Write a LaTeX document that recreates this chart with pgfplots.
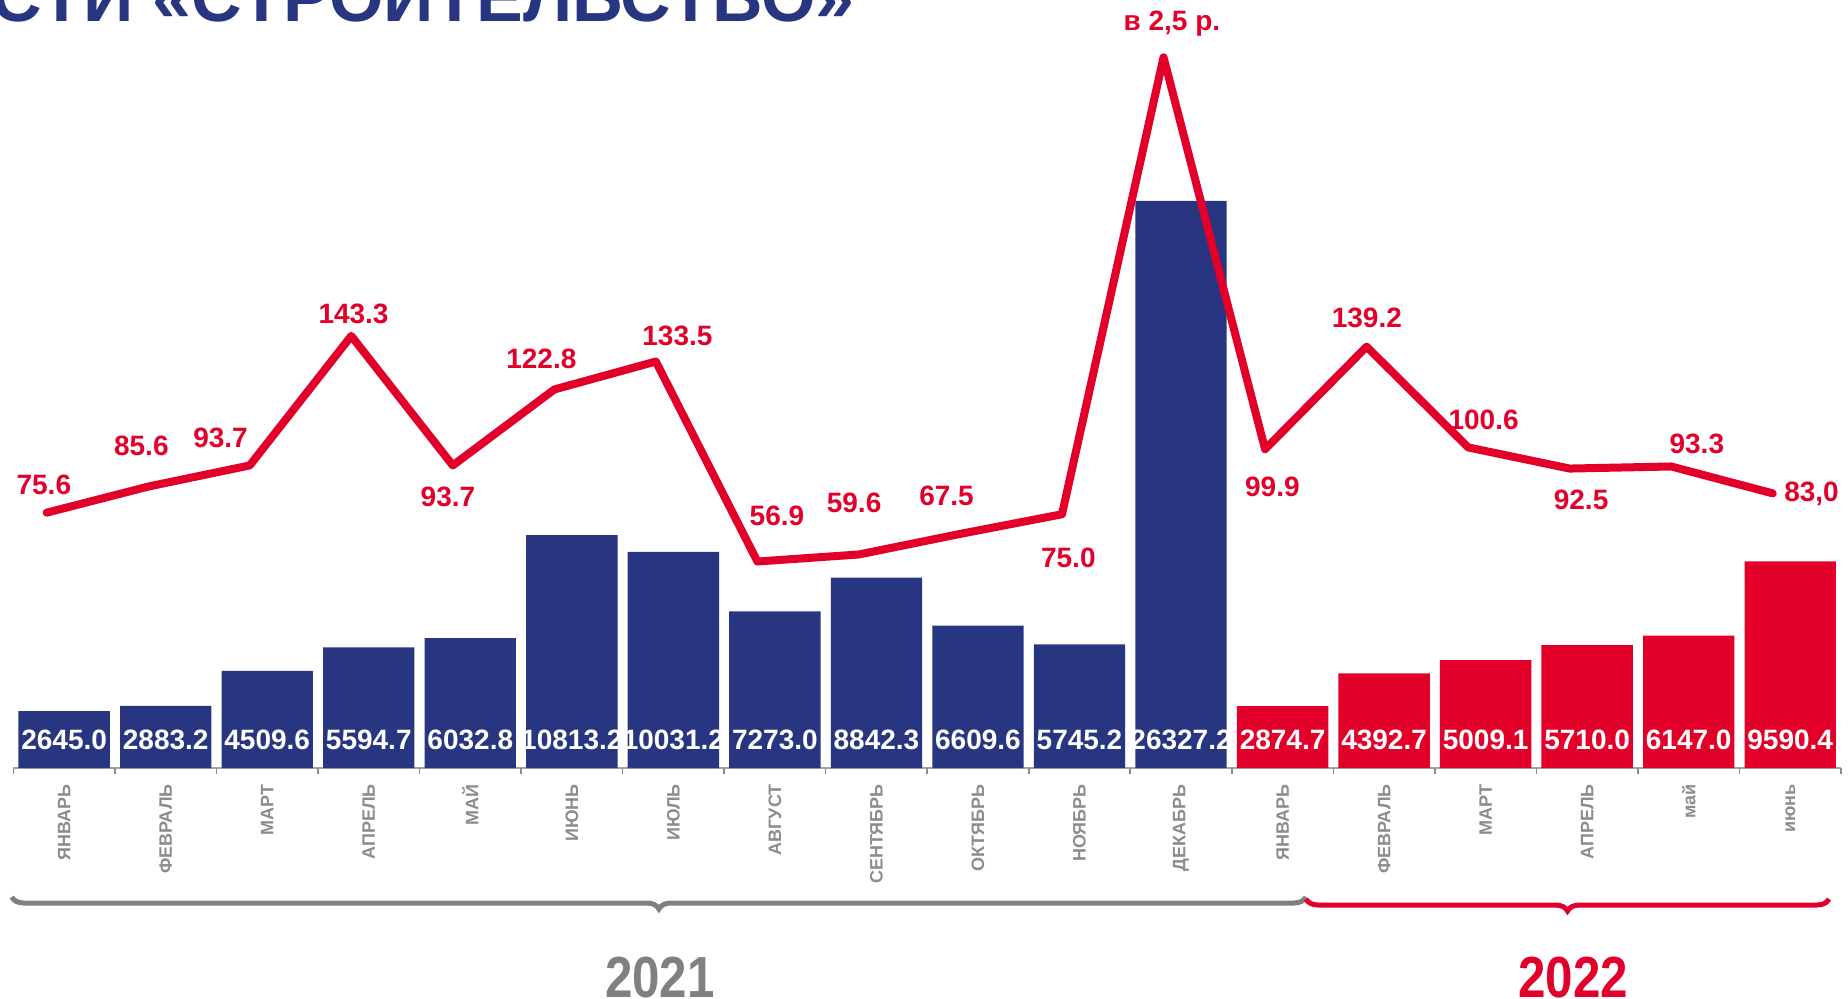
\documentclass[border=0pt]{standalone}
\usepackage{fontspec}
\setmainfont{Liberation Sans}
\newfontfamily\narrowfont[FakeStretch=0.85]{Liberation Sans}
\usepackage{pgfplots}
\pgfplotsset{compat=1.18}
\usetikzlibrary{decorations.pathreplacing}
\definecolor{navy}{RGB}{40,54,130}
\definecolor{ared}{RGB}{226,0,43}
\definecolor{tgray}{RGB}{140,140,140}
\definecolor{ygray}{RGB}{128,128,128}
\begin{document}
\begin{tikzpicture}
\path[use as bounding box] (0,0) rectangle (924pt,499pt);
\clip (0,0) rectangle (924pt,499pt);
\node[anchor=base east, inner sep=0pt, text=navy, font=\fontsize{35pt}{40pt}\selectfont\bfseries] at (427.5pt,488pt) {ДЕЯТЕЛЬНОСТИ «СТРОИТЕЛЬСТВО»};

\begin{axis}[at={(6.7pt,115pt)}, anchor=south west, scale only axis,
  width=913.8pt, height=384pt,
  xmin=-0.5, xmax=17.5, ymin=0, ymax=35655,
  axis x line*=bottom, axis y line=none,
  axis line style={tgray!80, line width=0.8pt},
  xtick={0,...,17},
  xticklabels={ЯНВАРЬ,ФЕВРАЛЬ,МАРТ,АПРЕЛЬ,МАЙ,ИЮНЬ,ИЮЛЬ,АВГУСТ,СЕНТЯБРЬ,ОКТЯБРЬ,НОЯБРЬ,ДЕКАБРЬ,ЯНВАРЬ,ФЕВРАЛЬ,МАРТ,АПРЕЛЬ,май,июнь},
  major tick length=0pt, tick align=outside,
  extra x ticks={-0.5,0.5,...,17.5}, extra x tick labels={},
  extra x tick style={major tick length=3pt, tick style={tgray, line width=0.8pt}},
  xticklabel style={rotate=90, anchor=east, inner sep=0pt, text=tgray, font=\fontsize{9pt}{10pt}\selectfont\bfseries},
  xticklabel shift=8pt,
  clip=false]
\addplot[ybar, bar width=0.9, bar shift=0pt, fill=navy, draw=none] coordinates {
(0,2645.0) (1,2883.2) (2,4509.6) (3,5594.7) (4,6032.8) (5,10813.2) (6,10031.2) (7,7273.0) (8,8842.3) (9,6609.6) (10,5745.2) (11,26327.2)};
\addplot[ybar, bar width=0.9, bar shift=0pt, fill=ared, draw=none] coordinates {
(12,2874.7) (13,4392.7) (14,5009.1) (15,5710.0) (16,6147.0) (17,9590.4)};
\begin{scope}[every node/.style={text=white, font=\fontsize{14pt}{16pt}\selectfont\bfseries, inner sep=0pt}]
\node at (axis cs:0,1300) {2645.0};
\node at (axis cs:1,1300) {2883.2};
\node at (axis cs:2,1300) {4509.6};
\node at (axis cs:3,1300) {5594.7};
\node at (axis cs:4,1300) {6032.8};
\node at (axis cs:5,1300) {10813.2};
\node at (axis cs:6,1300) {10031.2};
\node at (axis cs:7,1300) {7273.0};
\node at (axis cs:8,1300) {8842.3};
\node at (axis cs:9,1300) {6609.6};
\node at (axis cs:10,1300) {5745.2};
\node at (axis cs:11,1300) {26327.2};
\node at (axis cs:12,1300) {2874.7};
\node at (axis cs:13,1300) {4392.7};
\node at (axis cs:14,1300) {5009.1};
\node at (axis cs:15,1300) {5710.0};
\node at (axis cs:16,1300) {6147.0};
\node at (axis cs:17,1300) {9590.4};
\end{scope}
\end{axis}

\begin{axis}[at={(6.7pt,115pt)}, anchor=south west, scale only axis,
  width=913.8pt, height=384pt,
  xmin=-0.5, xmax=17.5, ymin=-22.18, ymax=271.96,
  hide axis, clip=false]
\addplot[ared, line width=4pt, line cap=round, line join=round, xshift=-8.75pt] coordinates {
(0,75.6) (1,85.6) (2,93.7) (3,143.3) (4,93.7) (5,122.8) (6,133.5) (7,56.9) (8,59.6) (9,67.5) (10,75.0) (11,250) (12,99.9) (13,139.2) (14,100.6) (15,92.5) (16,93.3) (17,83.0)};
\begin{scope}[every node/.style={text=ared, font=\fontsize{14pt}{16pt}\selectfont\bfseries, inner sep=0pt}]
\node at (axis cs:-0.20,86.4) {75.6};
\node at (axis cs:0.76,101.3) {85.6};
\node at (axis cs:1.54,104.1) {93.7};
\node at (axis cs:2.85,151.9) {143.3};
\node at (axis cs:3.78,81.5) {93.7};
\node at (axis cs:4.70,134.7) {122.8};
\node at (axis cs:6.04,143.3) {133.5};
\node at (axis cs:7.02,74.3) {56.9};
\node at (axis cs:7.78,79.2) {59.6};
\node at (axis cs:8.69,81.9) {67.5};
\node at (axis cs:9.89,58.4) {75.0};
\node at (axis cs:10.91,262.9) {в 2,5 р.};
\node at (axis cs:11.90,85.5) {99.9};
\node at (axis cs:12.83,150.1) {139.2};
\node at (axis cs:13.98,111.3) {100.6};
\node at (axis cs:14.94,80.6) {92.5};
\node at (axis cs:16.08,101.8) {93.3};
\node at (axis cs:17.21,82.8) {83,0};
\end{scope}
\end{axis}

\draw[ygray, line width=2.5pt, decorate, decoration={brace, mirror, amplitude=6pt}] (5.9pt,50.5pt) -- (653pt,50.5pt);
\draw[ared, line width=2.5pt, decorate, decoration={brace, mirror, amplitude=6pt}] (653pt,49.5pt) -- (914.5pt,49.5pt);
\node[anchor=base, inner sep=0pt, text=ygray, font=\narrowfont\fontsize{29pt}{32pt}\selectfont\bfseries] at (330pt,0.5pt) {2021};
\node[anchor=base, inner sep=0pt, text=ared, font=\narrowfont\fontsize{29pt}{32pt}\selectfont\bfseries] at (786.7pt,0.5pt) {2022};
\end{tikzpicture}
\end{document}
